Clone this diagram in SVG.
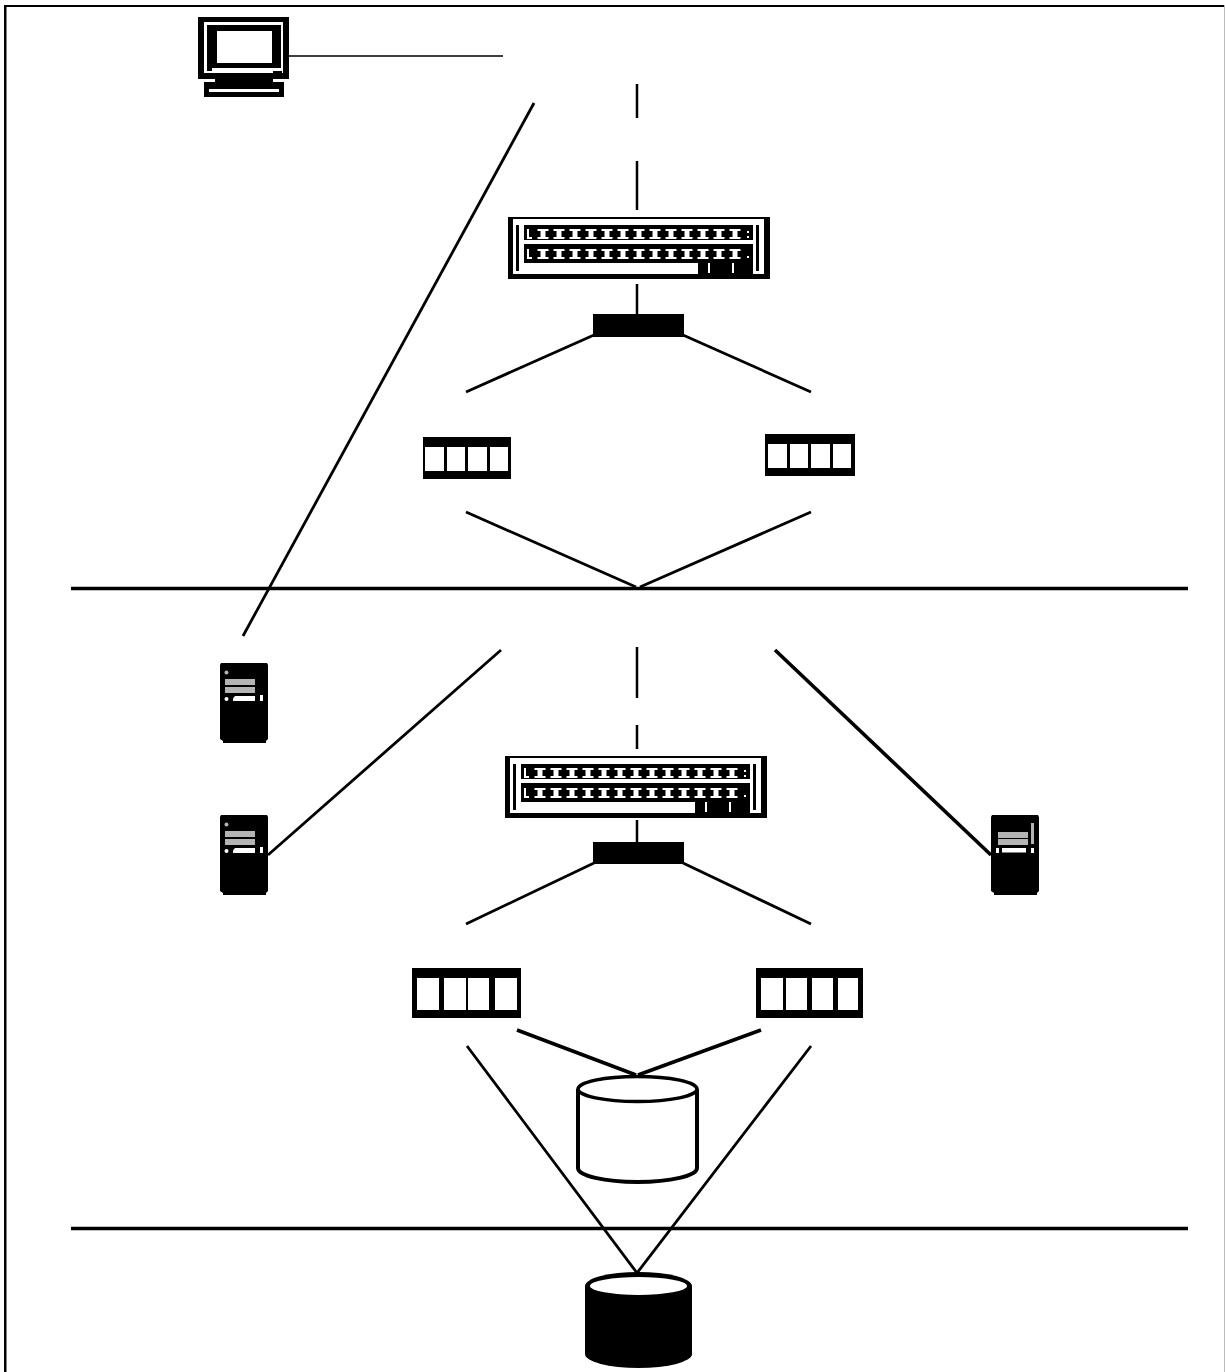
<svg xmlns="http://www.w3.org/2000/svg" width="1225" height="1372" viewBox="0 0 1225 1372">
<style>
.k{fill:#000}.w{fill:#fff}.g{fill:#b4b4b4}
.c{fill:none;stroke:#000;stroke-width:2.800;stroke-linecap:butt}
.t{stroke-width:1.600}.d{stroke-width:2.500}.h{stroke-width:3.600}
</style>
<defs>
<path id="ibeam" d="M-5.500 0H5.500V2H2.500V8H5.500V10H-5.500V8H-2.500V2H-5.500Z" fill="#fff"/>
<g id="row">
<path d="M-16 0H-14V8H-11V10H-16Z" fill="#fff"/>
<use href="#ibeam" x="0"/><use href="#ibeam" x="16"/><use href="#ibeam" x="32"/><use href="#ibeam" x="48"/><use href="#ibeam" x="64"/><use href="#ibeam" x="80"/><use href="#ibeam" x="96"/><use href="#ibeam" x="112"/><use href="#ibeam" x="128"/><use href="#ibeam" x="144"/><use href="#ibeam" x="160"/><use href="#ibeam" x="176"/><use href="#ibeam" x="192"/>
</g>
<g id="switch">
<rect class="k" width="262" height="62"/>
<rect class="w" x="5" y="2" width="251" height="55"/>
<rect class="k" x="8" y="8" width="3" height="46"/>
<rect class="k" x="248" y="8" width="3" height="46"/>
<rect class="k" x="16" y="8" width="229" height="15"/>
<rect class="k" x="16" y="27" width="229" height="19"/>
<rect class="k" x="190" y="46" width="55" height="11"/>
<use href="#row" x="35" y="12"/>
<use href="#row" x="35" y="32"/>
<rect class="w" x="239" y="14" width="2" height="2"/><rect class="w" x="239" y="19" width="2" height="2"/><rect class="w" x="239" y="39" width="2" height="2"/>
<rect class="w" x="200" y="46" width="2" height="10"/><rect class="w" x="224" y="46" width="2" height="10"/>
</g>
<g id="serverA">
<path class="k" d="M0 2L1 0H47L48 2V76L46 78V80H3V78L0 76Z"/>
<circle class="g" cx="6.500" cy="9.500" r="2"/>
<rect class="g" x="5" y="16" width="30" height="6"/>
<rect class="g" x="5" y="24" width="30" height="6"/>
<circle class="w" cx="6.500" cy="36" r="2"/>
<path class="w" d="M15 33H35V38H13V35.500Z"/>
<rect class="w" x="40" y="32" width="3" height="6"/>
</g>
</defs>
<rect class="w" width="1225" height="1372"/>
<g id="frame">
<rect class="k" x="4" y="5" width="2.500" height="1367"/>
<rect class="k" x="4" y="5" width="1221" height="2"/>
<rect x="1224" y="5" width="1" height="1367" fill="#bbb"/>
</g>
<g id="connectors">
<path class="c t" d="M289 56H503"/>
<path class="c d" d="M637 84V118M637 161V210M637 284V314M637 647V698M637 725V749M637 820V842"/>
<path class="c" d="M534 103L243 636"/>
<path class="c" d="M594 335L466 392M683 335L811 392"/>
<path class="c" d="M466 512L636 587M811 512L640 587"/>
<path class="c h" d="M71 588.500H1188M71 1228.500H1188"/>
<path class="c" d="M501 650L268 855"/>
<path class="c h" d="M775 650L991 855"/>
<path class="c" d="M594 863L466 924M683 863L811 924"/>
<path class="c h" d="M517 1030L636 1075M761 1030L638 1075"/>
<path class="c" d="M467 1046L637 1273M811 1046L637 1273"/>
</g>
<g id="workstation">
<rect class="k" x="198" y="17" width="91" height="62"/>
<rect class="w" x="204" y="22" width="79" height="51"/>
<rect class="k" x="207" y="25" width="74" height="43"/>
<rect class="k" x="207" y="67" width="5" height="4"/>
<rect class="k" x="273" y="71" width="9" height="2"/>
<rect class="w" x="217" y="31" width="55" height="32"/>
<rect class="k" x="215" y="79" width="58" height="4"/>
<rect class="k" x="204" y="82" width="80" height="15"/>
<rect class="w" x="209" y="89" width="70" height="3"/>
</g>
<use id="switch-1" href="#switch" x="508" y="217"/>
<rect id="adapter-1" class="k" x="593" y="314" width="91" height="23"/>
<g id="card-1">
<rect class="k" x="423" y="437" width="88" height="42"/>
<rect class="w" x="425" y="447" width="19" height="24"/><rect class="w" x="447" y="447" width="18" height="24"/><rect class="w" x="468" y="447" width="19" height="24"/><rect class="w" x="490" y="447" width="18" height="24"/>
</g>
<g id="card-2">
<rect class="k" x="765" y="434" width="90" height="42"/>
<rect class="w" x="768" y="444" width="19" height="24"/><rect class="w" x="790" y="444" width="18" height="24"/><rect class="w" x="811" y="444" width="19" height="24"/><rect class="w" x="833" y="444" width="18" height="24"/>
</g>
<use id="server-1" href="#serverA" x="220" y="663"/>
<use id="server-2" href="#serverA" x="220" y="815"/>
<g id="server-3">
<path class="k" d="M991 817L992 815H1038L1039 817V891L1037 893V895H994V893L991 891Z"/>
<rect class="g" x="998" y="832" width="30" height="6"/>
<rect class="g" x="998" y="839" width="30" height="6"/>
<rect class="w" x="1002" y="848" width="24" height="4.500"/>
<rect class="w" x="996" y="848" width="3" height="5"/>
<rect class="g" x="1031" y="823" width="3" height="21"/>
<rect class="w" x="1031" y="848" width="3" height="5"/>
</g>
<use id="switch-2" href="#switch" x="505" y="756"/>
<rect id="adapter-2" class="k" x="593" y="842" width="91" height="22"/>
<g id="card-3">
<rect class="k" x="412" y="968" width="109" height="50"/>
<rect class="w" x="417" y="978" width="22" height="32"/><rect class="w" x="444" y="978" width="22" height="32"/><rect class="w" x="468" y="978" width="21" height="32"/><rect class="w" x="495" y="978" width="22" height="32"/>
</g>
<g id="card-4">
<rect class="k" x="756" y="968" width="107" height="50"/>
<rect class="w" x="761" y="978" width="22" height="32"/><rect class="w" x="786" y="978" width="21" height="32"/><rect class="w" x="812" y="978" width="21" height="32"/><rect class="w" x="838" y="978" width="20" height="32"/>
</g>
<g id="disk-white">
<path fill="#fff" stroke="#000" stroke-width="4" d="M578 1089V1168A59.500 14 0 0 0 697 1168V1089"/>
<ellipse cx="637.500" cy="1089" rx="59.500" ry="12.500" fill="#fff" stroke="#000" stroke-width="3.500"/>
</g>
<g id="disk-black">
<path class="k" d="M585 1286A53.500 14 0 0 1 692 1286V1354A53.500 14 0 0 1 585 1354Z"/>
<ellipse class="w" cx="638.500" cy="1286" rx="48.500" ry="9"/>
</g>
</svg>
